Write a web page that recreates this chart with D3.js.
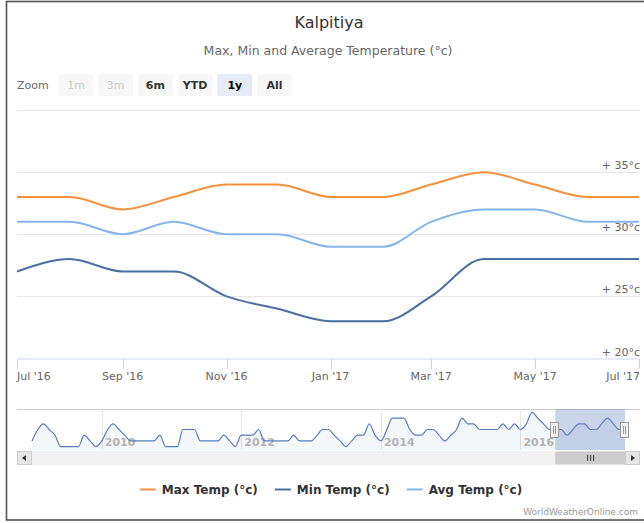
<!DOCTYPE html>
<html>
<head>
<meta charset="utf-8">
<script src="https://cdnjs.cloudflare.com/ajax/libs/d3/7.8.5/d3.min.js"></script>
<style>
body{margin:0;background:#fff;}
text{font-family:"DejaVu Sans",sans-serif;}
</style>
</head>
<body>
<svg width="644" height="523"></svg>
<script>
// main chart data, one point per month
var months=["2016-07","2016-08","2016-09","2016-10","2016-11","2016-12","2017-01","2017-02","2017-03","2017-04","2017-05","2017-06","2017-07"];
var maxTemp=[33,33,32,33,34,34,33,33,34,35,34,33,33];
var minTemp=[27,28,27,27,25,24,23,23,25,28,28,28,28];
var avgTemp=[31,31,30,31,30,30,29,29,31,32,32,31,31];
var seriesNames=["Max Temp (°c)","Min Temp (°c)","Avg Temp (°c)"];
var seriesColors=["#f4913f","#4a6fa5","#84b6ea"];

var xTickMonths=["2016-07","2016-09","2016-11","2017-01","2017-03","2017-05","2017-07"];
var yTicks=[20,25,30,35,40];
var zoomButtons=["1m","3m","6m","YTD","1y","All"];

// navigator: monthly max temp from Jan 2009
var navStart="2009-01";
var navMaxTemp=[
 31,33,34,33,32,30,30,30,30,32,31,30,
 31,33,34,33,32,31,31,31,31,31,32,30,
 30,30,33,33,33,31,31,31,31,32,31,30,
 32,32,32,33,31,31,31,31,31,32,31,31,
 31,32,33,33,32,31,30,31,32,32,34,32,
 31,33,35,35,35,33,32,32,33,33,32,31,
 32,33,35,34,34,33,33,33,33,34,33,34,
 33,34,36,35,34,33,33,33,32,33,34,34,
 33,33,34,35,34,33,33];
var navYears=[2010,2012,2014,2016];

var parseMonth=d3.timeParse("%Y-%m");
var monthFmt=d3.timeFormat("%b '%y");

var svg=d3.select("svg");

// frame
svg.append("rect")
   .attr("x",6.5).attr("y",1.5)
   .attr("width",700).attr("height",518.5)
   .attr("fill","#fff")
   .attr("stroke","#555")
   .attr("stroke-width",1.6);

// titles
svg.append("text")
   .attr("x",329).attr("y",28)
   .attr("text-anchor","middle")
   .attr("fill","#333")
   .style("font-size","16px")
   .text("Kalpitiya");
svg.append("text")
   .attr("x",328).attr("y",55)
   .attr("text-anchor","middle")
   .attr("fill","#666")
   .style("font-size","12.5px")
   .text("Max, Min and Average Temperature (°c)");

// range selector
svg.append("text")
   .attr("x",17).attr("y",89)
   .attr("fill","#666")
   .style("font-size","11px")
   .text("Zoom");
var btn=svg.selectAll("g.btn")
   .data(zoomButtons)
   .enter()
   .append("g")
   .classed("btn",true)
   .attr("transform",function(d,i){return "translate("+(58.5+i*39.7)+",74)";});
btn.append("rect")
   .attr("width",35).attr("height",22).attr("rx",2)
   .attr("fill",function(d){return d=="1y"?"#e6ebf5":"#f7f7f7";});
btn.append("text")
   .attr("x",17.5).attr("y",15)
   .attr("text-anchor","middle")
   .style("font-size","11px")
   .style("font-weight",function(d,i){return i<2?"normal":"bold";})
   .attr("fill",function(d,i){
      if(i<2) return "#ccc";
      return d=="1y"?"#000":"#333";
   })
   .text(function(d){return d;});

// main plot
var plotLeft=17, plotRight=640, plotTop=110, plotBottom=358.5;

var dates=months.map(parseMonth);

var xScale=d3.scaleTime()
   .domain([dates[0],dates[dates.length-1]])
   .range([plotLeft,639]);

var yScale=d3.scaleLinear()
   .domain([20,40])
   .range([plotBottom,plotTop]);

var plot=svg.append("g").classed("plot",true);

plot.selectAll("line.grid")
   .data(yTicks.filter(function(d){return d>20;}))
   .enter()
   .append("line")
   .classed("grid",true)
   .attr("x1",plotLeft).attr("x2",plotRight)
   .attr("y1",function(d){return Math.round(yScale(d))+0.5;})
   .attr("y2",function(d){return Math.round(yScale(d))+0.5;})
   .attr("stroke","#e6e6e6");

plot.selectAll("text.ylab")
   .data(yTicks.filter(function(d){return d<40;}))
   .enter()
   .append("text")
   .classed("ylab",true)
   .attr("x",640)
   .attr("y",function(d){return yScale(d)-3;})
   .attr("text-anchor","end")
   .attr("fill","#666")
   .style("font-size","11px")
   .text(function(d){return "+ "+d+"°c";});

// x axis
plot.append("line")
   .attr("x1",plotLeft).attr("x2",plotRight)
   .attr("y1",359).attr("y2",359)
   .attr("stroke","#ccd6eb");

var xTickDates=xTickMonths.map(parseMonth);
plot.selectAll("line.xtick")
   .data(xTickDates)
   .enter()
   .append("line")
   .classed("xtick",true)
   .attr("x1",function(d){return Math.round(xScale(d))+0.5;})
   .attr("x2",function(d){return Math.round(xScale(d))+0.5;})
   .attr("y1",359).attr("y2",369)
   .attr("stroke","#ccd6eb");

plot.selectAll("text.xlab")
   .data(xTickDates)
   .enter()
   .append("text")
   .classed("xlab",true)
   .attr("y",380)
   .attr("fill","#666")
   .style("font-size","11px")
   .text(function(d){return monthFmt(d);})
   .attr("x",function(d){
      var w=this.getComputedTextLength();
      var x=xScale(d)-w/2;
      if(x<plotLeft) x=plotLeft;
      if(x+w>plotRight) x=plotRight-w;
      return x;
   });

var line=d3.line()
   .x(function(d,i){return xScale(dates[i]);})
   .y(function(d){return yScale(d);})
   .curve(d3.curveMonotoneX);

var allSeries=[maxTemp,minTemp,avgTemp];
plot.selectAll("path.series")
   .data(allSeries)
   .enter()
   .append("path")
   .classed("series",true)
   .attr("d",line)
   .attr("fill","none")
   .attr("stroke",function(d,i){return seriesColors[i];})
   .attr("stroke-width",2);

// navigator
var navTop=409, navBottom=450;
var navDates=navMaxTemp.map(function(d,i){return d3.timeMonth.offset(parseMonth(navStart),i);});

var navX=d3.scaleTime()
   .domain([navDates[0],navDates[navDates.length-1]])
   .range([32,625]);
var navY=d3.scaleLinear()
   .domain([29.4,36.6])
   .range([navBottom,navTop]);

var nav=svg.append("g").classed("navigator",true);

nav.append("line")
   .attr("x1",plotLeft).attr("x2",plotRight)
   .attr("y1",navTop+0.5).attr("y2",navTop+0.5)
   .attr("stroke","#ccc");

nav.selectAll("line.navgrid")
   .data(navYears)
   .enter()
   .append("line")
   .classed("navgrid",true)
   .attr("x1",function(d){return Math.round(navX(new Date(d,0,1)))+0.5;})
   .attr("x2",function(d){return Math.round(navX(new Date(d,0,1)))+0.5;})
   .attr("y1",navTop).attr("y2",navBottom)
   .attr("stroke","#e6e6e6");

var navArea=d3.area()
   .x(function(d,i){return navX(navDates[i]);})
   .y0(navBottom)
   .y1(function(d){return navY(d);})
   .curve(d3.curveMonotoneX);
var navLine=d3.line()
   .x(function(d,i){return navX(navDates[i]);})
   .y(function(d){return navY(d);})
   .curve(d3.curveMonotoneX);

nav.append("path")
   .attr("d",navArea(navMaxTemp))
   .attr("fill","rgba(69,114,167,0.06)");

nav.selectAll("text.navlab")
   .data(navYears)
   .enter()
   .append("text")
   .classed("navlab",true)
   .attr("x",function(d){return navX(new Date(d,0,1))+3;})
   .attr("y",446)
   .attr("fill","#b3b3b3")
   .style("font-size","11px")
   .style("font-weight","bold")
   .text(function(d){return d;});

nav.append("path")
   .attr("d",navLine(navMaxTemp))
   .attr("fill","none")
   .attr("stroke","#5a7cba")
   .attr("stroke-width",1.2);

// selected window = main chart range
var selL=navX(dates[0]), selR=navX(dates[dates.length-1]);
nav.append("rect")
   .attr("x",selL).attr("y",navTop)
   .attr("width",selR-selL).attr("height",navBottom-navTop)
   .attr("fill","rgba(102,133,194,0.35)");

// scrollbar
nav.append("rect")
   .attr("x",plotLeft+0.5).attr("y",451.5)
   .attr("width",plotRight-plotLeft-1).attr("height",13)
   .attr("fill","#f2f2f2")
   .attr("stroke","#f2f2f2");
nav.append("rect")
   .attr("x",selL).attr("y",451.5)
   .attr("width",selR-selL).attr("height",13)
   .attr("fill","#cccccc");
[-3,0,3].forEach(function(o){
   nav.append("line")
      .attr("x1",(selL+selR)/2+o+0.5).attr("x2",(selL+selR)/2+o+0.5)
      .attr("y1",455).attr("y2",461)
      .attr("stroke","#333");
});
nav.append("rect")
   .attr("x",plotLeft+0.5).attr("y",451.5)
   .attr("width",14).attr("height",13)
   .attr("fill","#e6e6e6").attr("stroke","#ccc");
nav.append("path")
   .attr("d","M22,458 L26,455 L26,461 Z")
   .attr("fill","#333");
nav.append("rect")
   .attr("x",625.5).attr("y",451.5)
   .attr("width",14).attr("height",13)
   .attr("fill","#e6e6e6").attr("stroke","#ccc");
nav.append("path")
   .attr("d","M635,458 L631,455 L631,461 Z")
   .attr("fill","#333");

// handles
[selL,selR].forEach(function(hx){
   var h=nav.append("g").attr("transform","translate("+Math.round(hx)+",422)");
   h.append("rect")
      .attr("x",-4.5).attr("y",0.5)
      .attr("width",8).attr("height",15)
      .attr("fill","#f2f2f2").attr("stroke","#999");
   h.append("line").attr("x1",-1.5).attr("x2",-1.5).attr("y1",4).attr("y2",12).attr("stroke","#999");
   h.append("line").attr("x1",0.5).attr("x2",0.5).attr("y1",4).attr("y2",12).attr("stroke","#999");
});

// legend
var legend=svg.append("g").classed("legend",true);
var items=legend.selectAll("g.item")
   .data(seriesNames)
   .enter()
   .append("g")
   .classed("item",true);
items.append("line")
   .attr("x1",0).attr("x2",16)
   .attr("y1",489.5).attr("y2",489.5)
   .attr("stroke",function(d,i){return seriesColors[i];})
   .attr("stroke-width",2);
items.append("text")
   .attr("x",22).attr("y",494)
   .attr("fill","#333")
   .style("font-size","12px")
   .style("font-weight","bold")
   .text(function(d){return d;});
var widths=[];
items.selectAll("text").each(function(){widths.push(22+this.getComputedTextLength());});
var gap=17;
var total=d3.sum(widths)+gap*(widths.length-1);
var cx=331-total/2;
items.attr("transform",function(d,i){
   var x=cx;
   for(var k=0;k<i;k++) x+=widths[k]+gap;
   return "translate("+x+",0)";
});

// credits
svg.append("text")
   .attr("x",638).attr("y",515)
   .attr("text-anchor","end")
   .attr("fill","#999")
   .style("font-size","9px")
   .text("WorldWeatherOnline.com");
</script>
</body>
</html>
